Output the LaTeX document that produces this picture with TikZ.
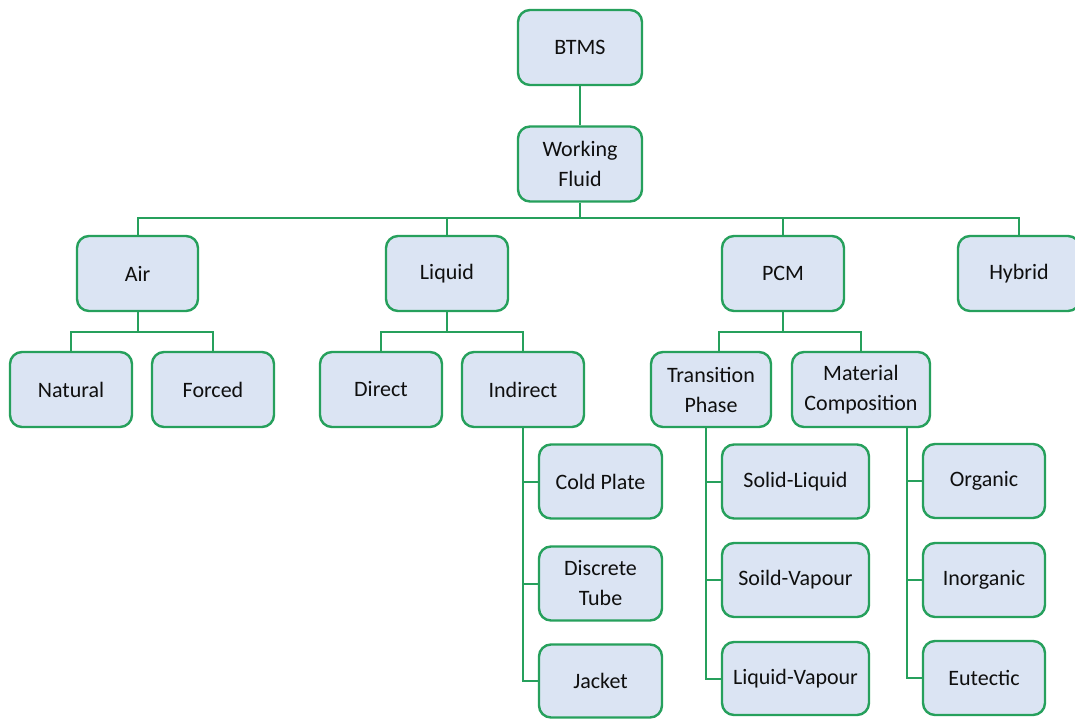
\documentclass[tikz,border=0pt]{standalone}
\usepackage{fontspec}
\setmainfont{Carlito}
\usetikzlibrary{backgrounds}
\definecolor{bordergreen}{RGB}{38,160,92}
\definecolor{boxfill}{RGB}{219,228,243}
\definecolor{txt}{RGB}{15,15,15}
\begin{document}
\begin{tikzpicture}[x=1pt,y=-1pt,
  box/.style={draw=bordergreen, fill=boxfill, line width=2.4pt, rounded corners=12pt,
    align=center, inner sep=0pt, text=txt,
    font=\fontsize{22}{30}\selectfont},
  conn/.style={draw=bordergreen, line width=2pt}]
\useasboundingbox (0,0) rectangle (1075,718);
% nodes
\node[box, minimum width=124pt, minimum height=75pt] (btms) at (580,47.5) {BTMS};
\node[box, minimum width=124pt, minimum height=75pt] (wf) at (580,164) {Working\\Fluid};
\node[box, minimum width=121pt, minimum height=75pt] (air) at (137.5,273.5) {Air};
\node[box, minimum width=122pt, minimum height=75pt] (liquid) at (447,273.5) {Liquid};
\node[box, minimum width=122pt, minimum height=75pt] (pcm) at (783,273.5) {PCM};
\node[box, minimum width=122pt, minimum height=75pt] (hybrid) at (1019,273.5) {Hybrid};
\node[box, minimum width=122pt, minimum height=75pt] (natural) at (71,389.5) {Natural};
\node[box, minimum width=122pt, minimum height=75pt] (forced) at (213,389.5) {Forced};
\node[box, minimum width=122pt, minimum height=75pt] (direct) at (381,389.5) {Direct};
\node[box, minimum width=122pt, minimum height=75pt] (indirect) at (523,389.5) {Indirect};
\node[box, minimum width=120pt, minimum height=75pt] (trans) at (711,389.5) {Transition\\Phase};
\node[box, minimum width=138pt, minimum height=75pt] (mat) at (861,389.5) {Material\\Composition};
\node[box, minimum width=123pt, minimum height=74pt] (cold) at (600.5,481.5) {Cold Plate};
\node[box, minimum width=123pt, minimum height=74pt] (discrete) at (600.5,583.5) {Discrete\\Tube};
\node[box, minimum width=123pt, minimum height=73pt] (jacket) at (600.5,681) {Jacket};
\node[box, minimum width=147pt, minimum height=74pt] (solidliq) at (795.5,481.5) {Solid-Liquid};
\node[box, minimum width=147pt, minimum height=74pt] (soildvap) at (795.5,580) {Soild-Vapour};
\node[box, minimum width=147pt, minimum height=73pt] (liqvap) at (795.5,678.5) {Liquid-Vapour};
\node[box, minimum width=122pt, minimum height=74pt] (organic) at (984,481) {Organic};
\node[box, minimum width=122pt, minimum height=74pt] (inorganic) at (984,580) {Inorganic};
\node[box, minimum width=122pt, minimum height=74pt] (eutectic) at (984,678) {Eutectic};
% bus coordinates
\coordinate (topbus) at (580,218);
\coordinate (airbus) at (137.5,332);
\coordinate (liqbus) at (447,332);
\coordinate (pcmbus) at (783,332);
\coordinate (tpin) at (719,352);
\coordinate (tpout) at (706,427);
\coordinate (mcout) at (907,427);
% connectors
\begin{scope}[on background layer]
\fill[white] (0,0) rectangle (1075,718);
\draw[conn] (btms.south) -- (wf.north);
\draw[conn] (wf.south) -- (topbus);
\draw[conn] (air.north) |- (topbus) -| (hybrid.north);
\draw[conn] (liquid.north) -- (liquid.north |- topbus);
\draw[conn] (pcm.north) -- (pcm.north |- topbus);
\draw[conn] (air.south) -- (airbus);
\draw[conn] (natural.north) |- (airbus) -| (forced.north);
\draw[conn] (liquid.south) -- (liqbus);
\draw[conn] (direct.north) |- (liqbus) -| (indirect.north);
\draw[conn] (pcm.south) -- (pcmbus);
\draw[conn] (tpin) |- (pcmbus) -| (mat.north);
\draw[conn] (indirect.south) |- (jacket.west);
\draw[conn] (indirect.south |- cold.west) -- (cold.west);
\draw[conn] (indirect.south |- discrete.west) -- (discrete.west);
\draw[conn] (tpout) |- (liqvap.west);
\draw[conn] (tpout |- solidliq.west) -- (solidliq.west);
\draw[conn] (tpout |- soildvap.west) -- (soildvap.west);
\draw[conn] (mcout) |- (eutectic.west);
\draw[conn] (mcout |- organic.west) -- (organic.west);
\draw[conn] (mcout |- inorganic.west) -- (inorganic.west);
\end{scope}
\end{tikzpicture}
\end{document}
